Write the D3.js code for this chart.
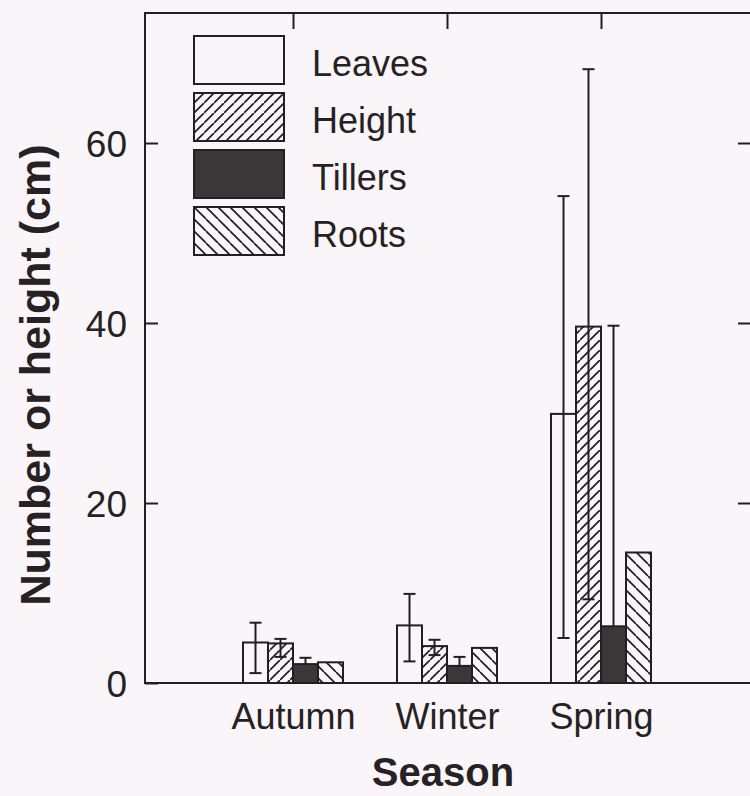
<!DOCTYPE html>
<html>
<head>
<meta charset="utf-8">
<script src="https://cdn.jsdelivr.net/npm/d3@7"></script>
<style>
  body { margin: 0; background: #f9f5f9; }
  svg { display: block; }
  text { font-family: "Liberation Sans", Arial, Helvetica, sans-serif; fill: #262223; }
</style>
</head>
<body>
<div id="chart"></div>
<script>
// seasons on the x axis and the four measured things
var seasons = ["Autumn", "Winter", "Spring"];
var series = ["Leaves", "Height", "Tillers", "Roots"];

// mean values per season (Autumn, Winter, Spring)
var leaves = [4.5, 6.4, 29.9];
var height = [4.4, 4.1, 39.6];
var tillers = [2.1, 1.9, 6.3];
var roots = [2.3, 3.9, 14.5];

// error bar ends [low, high]; low of tillers is hidden in the dark bar
var leavesErr = [[1.1, 6.7], [2.4, 9.9], [5.0, 54.1]];
var heightErr = [[2.9, 4.9], [3.1, 4.8], [9.3, 68.2]];
var tillersErr = [[null, 2.8], [null, 2.9], [null, 39.7]];
var rootsErr = [null, null, null];

var yTicks = [0, 20, 40, 60];

var W = 750, H = 796;
// plot frame (right edge sits just outside the picture)
var fLeft = 145, fTop = 13, fRight = 752, fBottom = 683;
var ink = "#231f20";

var svg = d3.select("#chart").append("svg").attr("width", W).attr("height", H);

// hatch patterns
var defs = svg.append("defs");
function hatch(id, size, dir) {
    var p = defs.append("pattern").attr("id", id)
        .attr("patternUnits", "userSpaceOnUse")
        .attr("width", size).attr("height", size);
    p.append("rect").attr("width", size).attr("height", size).attr("fill", "#f9f5f9");
    var s = size;
    var d = dir > 0
        ? "M0," + s + " L" + s + ",0 M" + (-s) + "," + s + " L0,0 M" + s + "," + (2 * s) + " L" + (2 * s) + "," + s
        : "M0,0 L" + s + "," + s + " M" + (-s) + ",0 L0," + s + " M" + s + ",0 L" + (2 * s) + "," + s;
    p.append("path").attr("d", d).attr("stroke", ink).attr("stroke-width", 1.7);
}
hatch("hatchUp", 10, 1);
hatch("hatchDown", 12, -1);

var fills = {
    "Leaves": "#f9f5f9",
    "Height": "url(#hatchUp)",
    "Tillers": "#3b3738",
    "Roots": "url(#hatchDown)"
};

var rows = [];
var vals = [leaves, height, tillers, roots];
var errs = [leavesErr, heightErr, tillersErr, rootsErr];
seasons.forEach(function (s, i) {
    series.forEach(function (k, j) {
        rows.push({season: s, key: k, value: vals[j][i], err: errs[j][i]});
    });
});

var y = d3.scaleLinear().domain([0, (fBottom - fTop) / 9]).range([fBottom, fTop]);
var x = d3.scalePoint().domain(seasons).range([293, 601]);
var xs = d3.scaleBand().domain(series).range([-50, 50]);

// bars
svg.append("g").selectAll("rect").data(rows).enter().append("rect")
    .attr("x", function (d) { return x(d.season) + xs(d.key); })
    .attr("y", function (d) { return y(d.value); })
    .attr("width", xs.bandwidth())
    .attr("height", function (d) { return y(0) - y(d.value); })
    .attr("fill", function (d) { return fills[d.key]; })
    .attr("stroke", ink)
    .attr("stroke-width", 2);

// error bars
var eb = svg.append("g").attr("stroke", ink).attr("stroke-width", 2)
    .selectAll("g").data(rows.filter(function (d) { return d.err; })).enter().append("g")
    .attr("transform", function (d) { return "translate(" + (x(d.season) + xs(d.key) + xs.bandwidth() / 2) + ",0)"; });
eb.append("line")
    .attr("y1", function (d) { return y(d.err[1]); })
    .attr("y2", function (d) { return y(d.err[0] == null ? d.value : d.err[0]); });
eb.append("line").attr("x1", -6).attr("x2", 6)
    .attr("y1", function (d) { return y(d.err[1]); })
    .attr("y2", function (d) { return y(d.err[1]); });
eb.filter(function (d) { return d.err[0] != null; }).append("line").attr("x1", -6).attr("x2", 6)
    .attr("y1", function (d) { return y(d.err[0]); })
    .attr("y2", function (d) { return y(d.err[0]); });

// frame
svg.append("rect").attr("x", fLeft).attr("y", fTop)
    .attr("width", fRight - fLeft).attr("height", fBottom - fTop)
    .attr("fill", "none").attr("stroke", ink).attr("stroke-width", 2);

// y axis, ticks inside
var yAxis = svg.append("g").attr("transform", "translate(" + fLeft + ",0)")
    .call(d3.axisLeft(y).tickValues(yTicks).tickSize(-13).tickPadding(18))
    .call(function (g) { g.select(".domain").remove(); });
yAxis.selectAll("line").attr("stroke", ink).attr("stroke-width", 2);
yAxis.selectAll("text").style("font-size", "37px").attr("dy", "0.36em");

svg.append("g").attr("transform", "translate(" + fRight + ",0)")
    .call(d3.axisRight(y).tickValues(yTicks.slice(1)).tickSize(-14).tickFormat(""))
    .call(function (g) { g.select(".domain").remove(); })
    .selectAll("line").attr("stroke", ink).attr("stroke-width", 2);

// top ticks, no labels
svg.append("g").attr("transform", "translate(0," + fTop + ")")
    .call(d3.axisTop(x).tickSize(-16).tickFormat(""))
    .call(function (g) { g.select(".domain").remove(); })
    .selectAll("line").attr("stroke", ink).attr("stroke-width", 2);

// season labels
var xAxis = svg.append("g").attr("transform", "translate(0," + fBottom + ")")
    .call(d3.axisBottom(x).tickSize(0).tickPadding(20))
    .call(function (g) { g.select(".domain").remove(); });
xAxis.selectAll("text").style("font-size", "36px");

// axis titles
svg.append("text").attr("x", 443).attr("y", 786)
    .attr("text-anchor", "middle").style("font-size", "40px").style("font-weight", "bold")
    .text("Season");
svg.append("text").attr("transform", "translate(50,375) rotate(-90)")
    .attr("text-anchor", "middle").style("font-size", "43px").style("font-weight", "bold")
    .text("Number or height (cm)");

// legend
var leg = svg.append("g").selectAll("g").data(series).enter().append("g")
    .attr("transform", function (d, i) { return "translate(194," + (36 + i * 57) + ")"; });
leg.append("rect").attr("width", 90).attr("height", 48)
    .attr("fill", function (d) { return fills[d]; })
    .attr("stroke", ink).attr("stroke-width", 2);
leg.append("text").attr("x", 118).attr("y", 40)
    .style("font-size", "36px")
    .text(function (d) { return d; });
</script>
</body>
</html>
